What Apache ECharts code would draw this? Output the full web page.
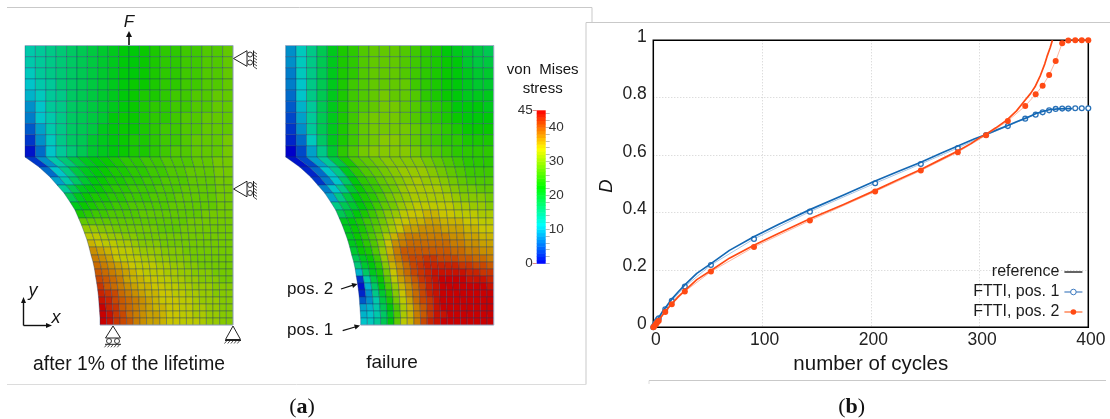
<!DOCTYPE html>
<html><head><meta charset="utf-8">
<style>html,body{margin:0;padding:0;background:#fff}#c{width:1110px;height:419px}</style>
<script src="https://cdn.jsdelivr.net/npm/echarts@6/dist/echarts.min.js"></script>
</head><body><div id="c"></div>
<script>
// ---- panel (b) data
var xTicks = [0,100,200,300,400];
var yTicks = [0,0.2,0.4,0.6,0.8,1];
var cyclesFTTI = [0,1,2,3,4,5,11,17,29,53,92.6,144,204,246,280,306,326,342,351.6,358,364,370,376,381.6,388,394,400];
var dFTTI1 = [0,.006,.013,.02,.026,.031,.063,.092,.142,.217,.308,.403,.502,.569,.625,.670,.701,.727,.741,.749,.756,.761,.762,.762,.763,.763,.763];
var dFTTI2 = [0,.004,.009,.014,.019,.023,.053,.08,.125,.194,.28,.372,.473,.546,.61,.669,.719,.771,.812,.842,.879,.928,.99,.999,1,1,1];
var cyclesRef1 = [0,2,5,8,11,14,17,23,29,40,53,70,92,115,144,175,204,225,246,265,280,295,306,316,326,334,342,348,352,358,364,372,380,385];
var dRef1 = [0,.015,.034,.052,.067,.083,.098,.124,.148,.188,.222,.268,.315,.358,.41,.461,.51,.543,.575,.607,.632,.656,.672,.688,.703,.716,.728,.738,.745,.752,.758,.761,.762,.762];
var cyclesRef2 = [0,2,5,8,11,14,17,23,29,40,53,70,92,115,144,175,204,225,246,265,280,292,300,306,315,325,334,342,347,351,356,360,362,365,367];
var dRef2 = [0,.009,.024,.04,.055,.069,.082,.107,.128,.166,.198,.241,.285,.327,.378,.428,.477,.514,.55,.586,.614,.64,.66,.673,.695,.722,.754,.792,.815,.838,.878,.918,.943,.975,1];
// ---- panel (a) data: von Mises stress per mesh cell, one row of 20 cells per line
var stressEarly = [
[13,14,15,16,17,18,19,20,21,22,22,23,24,25,25,26,26,27,27,28],
[13,14,15,16,17,18,19,20,21,22,22,23,24,25,25,26,26,27,27,28],
[12,14,15,16,17,18,19,20,21,22,22,23,24,25,25,26,26,27,27,28],
[11,13,14,16,17,18,19,20,21,22,23,23,24,25,25,26,26,27,27,28],
[10,12,14,15,17,18,19,20,21,22,23,24,24,25,26,26,27,27,28,28],
[8,11,14,15,17,18,19,20,21,22,23,24,25,25,26,26,27,27,28,28],
[7,11,13,15,17,18,19,20,22,23,23,24,25,25,26,27,27,28,28,28],
[5,9,13,15,17,18,19,21,22,23,23,24,25,26,26,27,27,28,28,28],
[3,8,12,15,17,18,20,21,22,23,24,24,25,26,26,27,28,28,28,29],
[1,6,11,14,16,18,20,21,22,23,24,24,25,26,27,27,28,28,28,29],
[3,8,13,16,19,21,22,23,24,25,25,26,26,27,27,27,28,28,29,29],
[6,11,15,19,21,22,23,24,24,25,25,26,26,27,27,28,28,28,29,29],
[9,13,17,20,22,23,24,24,25,25,26,26,27,27,27,28,28,28,29,29],
[14,18,21,22,23,24,25,25,26,26,26,27,27,27,28,28,28,28,29,29],
[18,21,23,24,24,25,25,26,26,26,27,27,27,28,28,28,28,28,29,29],
[21,23,24,25,25,26,26,27,27,27,27,27,28,28,28,28,28,28,29,29],
[24,25,26,26,27,27,27,27,28,28,28,28,28,28,28,28,29,29,29,29],
[28,28,28,28,28,28,28,28,28,28,28,28,28,28,29,29,29,29,29,29],
[31,31,30,30,29,29,29,29,29,29,28,28,28,29,29,29,29,29,29,29],
[33,33,32,31,31,30,30,29,29,29,29,29,29,29,29,29,29,29,29,29],
[35,34,33,33,32,32,31,30,30,30,29,29,29,29,29,29,29,29,29,29],
[37,36,35,34,33,33,32,31,31,31,30,30,30,29,29,29,29,29,29,29],
[38,37,36,34,33,33,33,32,32,31,31,30,30,30,29,29,29,29,29,29],
[39,38,37,36,35,34,33,33,33,32,32,31,31,30,30,29,29,29,29,29],
[40,39,38,37,36,35,34,33,33,33,32,32,31,31,30,30,30,29,29,29],
[41,40,39,38,36,35,35,34,34,33,33,32,32,31,31,30,30,30,29,29],
[42,40,39,38,37,36,35,35,34,34,33,33,32,32,31,31,31,30,30,30],
[43,42,41,39,38,37,36,35,35,34,34,33,33,32,32,31,31,30,30,30],
[44,43,41,40,39,38,37,36,35,34,34,34,33,33,32,31,31,31,30,30],
[45,43,42,40,39,38,37,36,35,35,34,34,33,33,32,32,31,31,30,30],
[45,44,42,41,39,38,37,36,36,35,34,34,33,33,32,32,31,31,30,30],
[45,44,42,41,40,38,37,36,36,35,34,34,33,33,33,32,31,31,30,30]];
var stressFailure = [
[8,12,15,18,21,24,25,27,28,28,28,27,26,25,24,22,21,20,19,18],
[8,12,15,18,21,24,25,27,28,28,28,27,26,25,24,23,22,20,19,19],
[7,12,15,18,21,24,25,27,28,28,28,27,26,25,24,23,22,21,20,20],
[7,11,15,18,21,24,26,27,28,28,28,28,26,25,24,23,22,21,20,20],
[6,11,15,18,21,24,26,27,28,29,28,28,27,25,24,23,22,21,21,21],
[5,10,14,18,21,24,26,27,28,29,29,28,27,26,25,24,22,22,22,21],
[4,9,14,18,21,24,26,28,29,29,29,28,27,26,25,24,23,22,22,22],
[3,8,14,18,21,24,26,28,29,29,29,29,28,27,26,25,24,23,23,23],
[2,6,12,17,21,24,26,28,29,30,30,29,28,27,26,25,25,24,24,24],
[0,4,9,15,20,25,27,29,30,30,30,30,29,28,27,26,25,25,25,25],
[1,4,9,14,19,24,27,28,29,30,30,30,30,29,28,27,26,25,25,25],
[2,6,11,15,21,25,27,28,29,30,31,31,31,30,29,28,27,26,26,26],
[3,7,11,17,22,25,26,28,29,30,31,32,31,31,30,29,28,27,27,27],
[7,11,15,20,23,25,26,28,29,31,32,32,32,32,31,30,29,29,28,28],
[9,15,19,22,24,25,27,29,30,31,32,32,32,32,32,31,30,30,30,29],
[15,18,20,22,24,26,28,29,31,32,33,33,33,33,33,32,32,31,31,30],
[18,20,22,24,26,28,30,31,33,34,34,35,35,34,34,33,33,33,32,32],
[21,22,24,26,27,29,31,33,34,35,35,36,36,35,35,35,34,34,33,33],
[21,23,24,26,28,30,32,34,36,36,37,37,37,36,36,36,35,35,34,34],
[21,23,25,27,29,32,35,37,38,38,38,38,38,38,37,37,36,36,35,35],
[21,23,25,27,30,34,37,38,39,39,39,39,39,39,38,38,37,37,36,36],
[20,23,24,27,31,35,38,40,40,40,40,40,40,40,39,39,38,38,37,37],
[18,21,23,26,31,36,38,40,41,41,42,42,41,41,41,40,40,39,39,38],
[16,20,22,25,30,35,37,39,41,42,43,43,43,43,43,42,42,41,41,40],
[10,17,21,24,29,34,37,39,41,42,43,44,44,44,44,44,43,43,42,42],
[3,13,19,23,28,33,36,38,40,42,43,44,45,45,45,45,44,44,44,43],
[1,10,17,22,27,31,35,37,39,41,43,44,45,45,45,45,45,45,45,44],
[2,8,15,20,25,30,34,37,39,41,43,44,45,45,45,45,45,45,45,45],
[5,8,13,19,24,29,33,36,39,41,42,44,45,45,45,45,45,45,45,45],
[9,10,13,18,22,27,32,35,38,40,42,44,45,45,45,45,45,45,45,45],
[10,11,13,17,21,27,32,35,38,40,42,44,44,45,45,45,45,45,45,45],
[11,12,14,18,22,28,33,35,38,41,43,44,45,45,45,45,45,45,45,45]];
var barLevels = [0,1,2,3,4,5,6,7,8,9,10,11,12,13,14,15,16,17,18,19,20,21,22,23,24,25,26,27,28,29,30,31,32,33,34,35,36,37,38,39,40,41,42,43,44];
var barLabelsRight = [10,20,30,40];
var barLabelsLeft = [0,45];
var barMinorTicks = [0,2,4,6,8,10,12,14,16,18,20,22,24,26,28,30,32,34,36,38,40,42,44];
// ---- mesh geometry (page pixels)
var rowY = [45.5,56.7,67.8,79,90.1,101.3,112.4,123.6,134.7,145.9,157,167,177,185,193,202,210,218,225,233,240,247,255,262,269,276,283,290,297,304,311,318,325];
var rowLeftX = [25,25,25,25,25,25,25,25,25,25,25,39,50,57,64,70,75,78.5,81.5,84.5,87,89,91,93,94.5,95.5,96.7,97.7,98.5,99,99.5,100,100];
var meshRightX = 233, secondMeshShift = 260.7;
var colorStops = [[0,0,0,255],[11.25,0,255,255],[22.5,0,255,0],[33.75,255,255,0],[45,255,0,0]];

var FONT = '"Liberation Sans", Arial, sans-serif', SERIF = '"Liberation Serif", serif';

function colorOf(v, k){
  for (var i=1;i<colorStops.length;i++){
    if (v<=colorStops[i][0]){
      var a=colorStops[i-1], b=colorStops[i], t=(v-a[0])/(b[0]-a[0]);
      return 'rgb('+[1,2,3].map(function(j){return Math.round((a[j]+(b[j]-a[j])*t)*k);}).join(',')+')';
    }
  }
  return 'rgb('+Math.round(255*k)+',0,0)';
}
function flat(m){var o=[];m.forEach(function(row,r){row.forEach(function(v,c){o.push([r,c,v]);});});return o;}
function node(r,c,shift){return [rowLeftX[r]+(meshRightX-rowLeftX[r])*c/20+shift,rowY[r]];}
function meshSeries(m,shift){
  return {type:'custom',xAxisIndex:0,yAxisIndex:0,silent:true,animation:false,clip:false,progressive:0,data:flat(m),
    renderItem:function(p,api){
      var r=api.value(0),c=api.value(1),v=api.value(2);
      var pts=[node(r,c,shift),node(r,c+1,shift),node(r+1,c+1,shift),node(r+1,c,shift)].map(function(q){return api.coord(q);});
      return {type:'polygon',shape:{points:pts},style:{fill:colorOf(v,0.79),stroke:'rgba(25,55,105,0.5)',lineWidth:0.7}};
    }};
}
// ---- annotation graphics
var g=[];
function line(x1,y1,x2,y2,c,w){g.push({type:'line',silent:true,z:20,shape:{x1:x1,y1:y1,x2:x2,y2:y2},style:{stroke:c||'#111',lineWidth:w||1}});}
function poly(pts,fill,stroke){g.push({type:'polygon',silent:true,z:20,shape:{points:pts},style:{fill:fill||'#fff',stroke:stroke||'none',lineWidth:1}});}
function circle(x,y,r){g.push({type:'circle',silent:true,z:20,shape:{cx:x,cy:y,r:r},style:{fill:'#fff',stroke:'#222',lineWidth:0.9}});}
function text(t,x,y,size,opt){opt=opt||{};g.push({type:'text',silent:true,z:20,x:x,y:y,style:{text:t,fontSize:size,fontFamily:opt.family||FONT,fontStyle:opt.italic?'italic':'normal',fontWeight:opt.bold?'bold':'normal',fill:opt.fill||'#151515',align:opt.align||'center',verticalAlign:'middle'},rotation:opt.rot||0});}
var B='#c9c9c9';
line(7,7.5,592,7.5,B);line(592,7.5,592,22.5,B);line(586,22.5,1110,22.5,B);line(586,22.5,586,384.5,B);line(7,384.5,586,384.5,'#dcdcdc');
line(649,380.5,1106,380.5,B);line(649,380.5,649,384,'#dcdcdc');
[0,secondMeshShift].forEach(function(s){
  var o='#a5b3cc';
  line(25+s,45.5,233+s,45.5,o,0.8);line(233+s,45.5,233+s,325,o,0.8);line(100+s,325,233+s,325,o,0.8);
});
function sideSupport(y){
  poly([[233.5,y],[247,y-7.8],[247,y+7.8]],'#fff','#222');
  circle(250,y-4,2.5);circle(250,y+4,2.5);
  line(253.5,y-8,253.5,y+8,'#222',1);
  [-7,-4,-1,2,5,8].forEach(function(d){line(253.5,y+d,257,y+d+2.5,'#222',0.8);});
}
sideSupport(58.5);sideSupport(189);
function bottomHatch(x1,x2,y){line(x1,y,x2,y,'#222',1);for(var x=x1+2;x<=x2;x+=3.2)line(x,y,x-2.5,y+3,'#222',0.8);}
poly([[113,326],[105.5,338],[120.5,338]],'#fff','#222');circle(109,341,2.5);circle(117,341,2.5);bottomHatch(105,121,344.3);
poly([[233,326],[225.5,339.5],[240.5,339.5]],'#fff','#222');bottomHatch(225,241,340.5);
line(129,45,129,35,'#111',1.6);poly([[129,31],[126,37],[132,37]],'#111');
text('F',129,22.5,17,{italic:true});
line(23.5,325.5,23.5,301,'#111',1.4);poly([[23.5,297],[21,303],[26,303]],'#111');
line(23.5,325.5,48,325.5,'#111',1.4);poly([[52,325.5],[46,323],[46,328]],'#111');
text('y',33,291,18,{italic:true});text('x',56,318,18,{italic:true});
text('after 1% of the lifetime',129,365,19.3);
text('failure',392,363,19);
text('pos. 2',287,289,17,{align:'left'});text('pos. 1',287,330,17,{align:'left'});
line(341,289,353,285.2,'#111',1.3);poly([[357.5,284],[351.5,283],[353,288]],'#111');
line(342.7,330.7,355,327,'#111',1.3);poly([[360,325.4],[354,324.5],[355.5,329.5]],'#111');
text('von  Mises',542.7,70,15);text('stress',542.7,89,15);
function panelTag(letter,x){g.push({type:'text',silent:true,z:20,x:x,y:407,style:{text:'{p|(}{b|'+letter+'}{p|)}',align:'center',verticalAlign:'middle',rich:{p:{fontFamily:SERIF,fontSize:22,fill:'#111'},b:{fontFamily:SERIF,fontSize:22,fontWeight:'bold',fill:'#111'}}}});}
panelTag('a',302);panelTag('b',851.7);
text('D',607,186,18.5,{italic:true,rot:Math.PI/2});

function zip(a,b){return a.map(function(x,i){return [x,b[i]];});}
var BLUE='#1468b4', RED='#ff4a14';
var splitDots={show:true,lineStyle:{color:'#cfcfcf',type:[1,2],width:1}};
var tickText={fontSize:17.5,color:'#222',fontFamily:FONT};
var option={
  animation:false,backgroundColor:'#fff',
  textStyle:{fontFamily:FONT},
  grid:[
    {left:0,top:0,width:1110,height:419,show:false},
    {left:536.7,top:110.3,width:9,height:153,show:false},
    {left:653.3,top:40.3,width:435,height:287,show:true,borderColor:'#000',borderWidth:1.5,z:3},
    {left:655.8,top:40.3,width:435,height:287,show:false},
    {left:653.3,top:37,width:435,height:287,show:false}
  ],
  xAxis:[
    {type:'value',gridIndex:0,min:0,max:1110,show:false},
    {type:'value',gridIndex:1,min:0,max:1,show:false},
    {type:'value',gridIndex:2,min:0,max:400,interval:100,
     name:'number of cycles',nameLocation:'middle',nameGap:27,nameTextStyle:{fontSize:20.5,color:'#151515',fontFamily:FONT},
     axisLine:{show:false},axisTick:{show:false},
     axisLabel:{show:false},
     splitLine:splitDots},
    {type:'value',gridIndex:3,min:0,max:400,interval:100,
     axisLine:{show:false},axisTick:{show:false},splitLine:{show:false},
     axisLabel:Object.assign({margin:4,hideOverlap:false},tickText)},
    {type:'value',gridIndex:4,min:0,max:400,show:false}
  ],
  yAxis:[
    {type:'value',gridIndex:0,min:0,max:419,inverse:true,show:false},
    {type:'value',gridIndex:1,min:0,max:45,position:'left',
     axisLine:{show:false},
     axisTick:{show:true,length:4,inside:false,customValues:barLabelsLeft,lineStyle:{color:'#d88'}},
     axisLabel:{show:true,customValues:barLabelsLeft,fontSize:13.5,color:'#333',fontFamily:FONT,margin:4},
     splitLine:{show:false}},
    {type:'value',gridIndex:1,min:0,max:45,position:'right',
     axisLine:{show:false},
     axisTick:{show:true,length:4,customValues:barMinorTicks,lineStyle:{color:'#bbb'}},
     axisLabel:{show:true,customValues:barLabelsRight,fontSize:13.5,color:'#333',fontFamily:FONT,margin:3},
     splitLine:{show:false}},
    {type:'value',gridIndex:2,min:0,max:1,interval:0.2,
     axisLine:{show:false},axisTick:{show:false},axisLabel:{show:false},
     splitLine:splitDots},
    {type:'value',gridIndex:3,min:0,max:1,show:false},
    {type:'value',gridIndex:4,min:0,max:1,interval:0.2,
     axisLine:{show:false},axisTick:{show:false},splitLine:{show:false},
     axisLabel:Object.assign({margin:6.5,formatter:function(v){return String(+v.toFixed(1));}},tickText)}
  ],
  legend:{show:true,orient:'vertical',align:'right',right:27,top:264,itemGap:4,itemWidth:18,itemHeight:7,padding:0,
    textStyle:{fontSize:16,color:'#1c1c1c',fontFamily:FONT,padding:[0,0,6,0]},
    data:[{name:'reference',icon:'path://M0 0H18V1.4H0Z',itemStyle:{color:'#222'}},
          {name:'FTTI, pos. 1',lineStyle:{color:'#4a80c0',width:1.2},itemStyle:{color:'#fff',borderColor:'#3d7ac0',borderWidth:1}},
          {name:'FTTI, pos. 2',lineStyle:{color:'#ff6a30',width:1.2},itemStyle:{color:RED}}]},
  graphic:{elements:g},
  series:[
    meshSeries(stressEarly,0),
    meshSeries(stressFailure,secondMeshShift),
    {type:'custom',xAxisIndex:1,yAxisIndex:1,silent:true,clip:false,data:barLevels.map(function(v){return [v];}),
     encode:{y:0},
     renderItem:function(p,api){
       var v=api.value(0),a=api.coord([0,v]),b=api.coord([1,v+1]);
       return {type:'rect',shape:{x:a[0],y:b[1],width:b[0]-a[0],height:a[1]-b[1]+0.5},style:{fill:colorOf(v+0.5,1)}};
     }},
    {type:'line',name:'reference',xAxisIndex:2,yAxisIndex:3,data:[],showSymbol:false,symbol:'none',itemStyle:{color:'#222'},lineStyle:{color:'#222',width:1.4}},
    {type:'line',name:'FTTI, pos. 1',xAxisIndex:2,yAxisIndex:3,data:zip(cyclesFTTI,dFTTI1),clip:false,z:4,
     symbol:'circle',symbolSize:4.8,showAllSymbol:true,lineStyle:{color:'rgba(90,150,210,0.55)',width:1},
     itemStyle:{color:'#fff',borderColor:'#2a72b8',borderWidth:1.3}},
    {type:'line',name:'reference, pos. 1',xAxisIndex:2,yAxisIndex:3,data:zip(cyclesRef1,dRef1),z:5,
     symbol:'none',lineStyle:{color:BLUE,width:1.7,join:'round'}},
    {type:'line',name:'FTTI, pos. 2',xAxisIndex:2,yAxisIndex:3,data:zip(cyclesFTTI,dFTTI2),clip:false,z:6,
     symbol:'circle',symbolSize:6,showAllSymbol:true,lineStyle:{color:'rgba(255,120,80,0.55)',width:1},
     itemStyle:{color:RED,borderWidth:0}},
    {type:'line',name:'reference, pos. 2',xAxisIndex:2,yAxisIndex:3,data:zip(cyclesRef2,dRef2),z:7,
     symbol:'none',lineStyle:{color:RED,width:1.7,join:'round'}}
  ]
};
var chart=echarts.init(document.getElementById('c'),null,{renderer:'canvas'});
chart.setOption(option);
</script></body></html>
